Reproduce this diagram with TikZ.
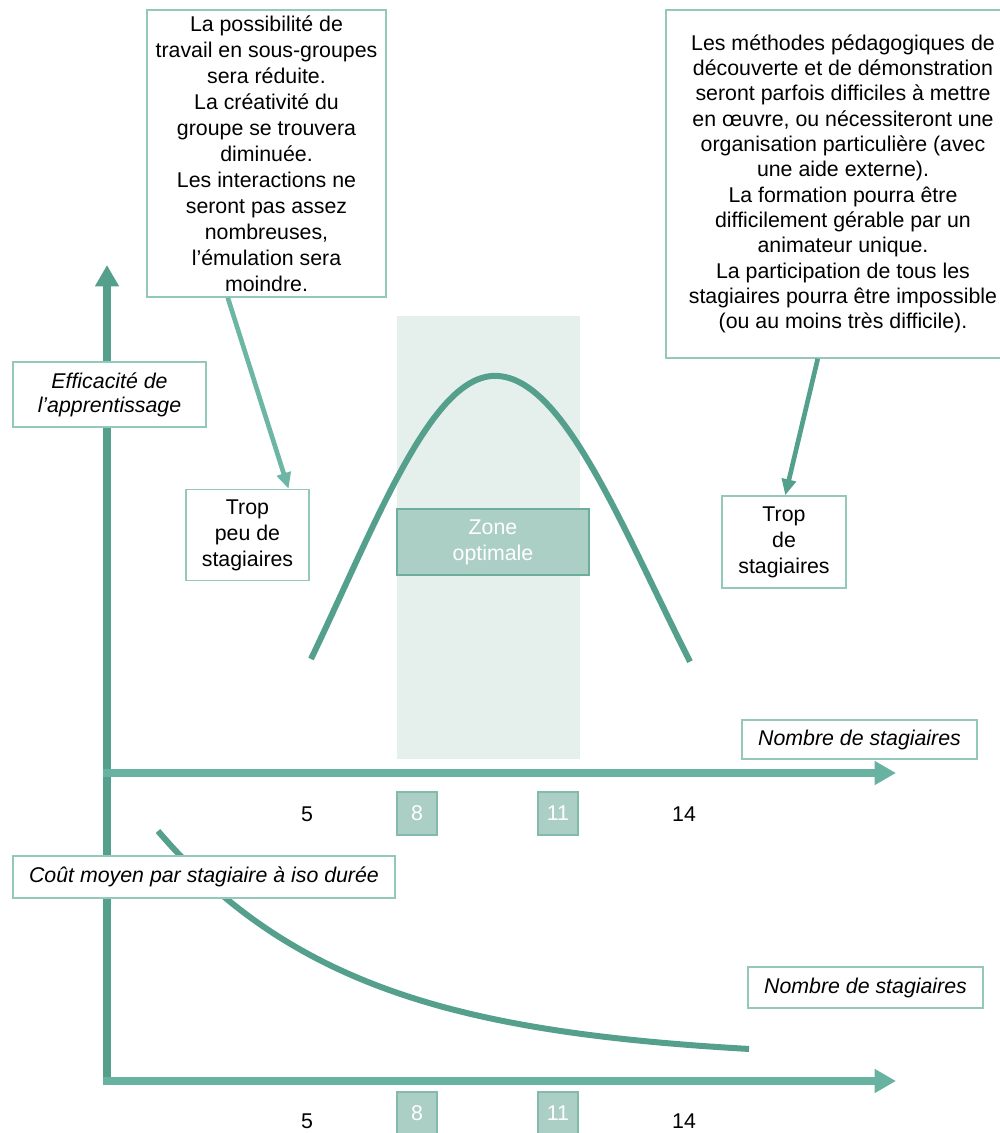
\documentclass[tikz,border=0pt]{standalone}
\usepackage{fontspec}
\setmainfont{Liberation Sans}
\usetikzlibrary{arrows.meta,calc}
\definecolor{tealdark}{HTML}{55A08D}
\definecolor{teallight}{HTML}{68B2A2}
\definecolor{tealarrow}{HTML}{6DB5A5}
\definecolor{boxline}{HTML}{93C8BB}
\definecolor{zonebg}{HTML}{E5EFEC}
\definecolor{zonefill}{HTML}{ABCFC5}
\definecolor{zoneline}{HTML}{6DAE9D}
\begin{document}
\begin{tikzpicture}[x=0.75pt,y=-0.75pt,
  txt/.style={font=\fontsize{16}{19.5}\selectfont, align=center},
  note/.style={txt, draw=boxline, line width=1.1pt, fill=white, inner sep=0pt},
  axislbl/.style={note, font=\fontsize{16}{18}\selectfont\itshape},
  tickbox/.style={draw=zoneline!85, fill=zonefill, text=white, line width=1pt,
    font=\fontsize{16}{19}\selectfont, minimum width=30pt, minimum height=32.25pt, inner sep=0pt},
  axisline/.style={line width=6pt, -{Triangle[length=16pt,width=17pt]}},
  curveline/.style={tealdark, line width=4.5pt, line join=round},
  pointer/.style={line width=3.5pt, -{Triangle[length=12pt,width=10.5pt]}}
]
\useasboundingbox (0,0) rectangle (1000,1133);

% optimal zone band
\fill[zonebg] (397,316) rectangle (580,759);

% axes
\draw[axisline, tealdark] (107,1085) -- (107,265);
\draw[axisline, teallight] (103,773) -- (896,773);
\draw[axisline, teallight] (103,1081) -- (896,1081);

% learning efficiency curve: a bell, slightly wider on its right side
\draw[curveline]
  plot[domain=311:495, samples=80] (\x,{376+545*(1-exp(((\x-495)/100)^2/(-4.6208)))})
  -- plot[domain=495:690, samples=80] (\x,{376+545*(1-exp(((\x-495)/100)^2/(-5.12)))});

% average cost per trainee: decays towards a floor
\draw[curveline]
  plot[domain=158:749, samples=120] (\x,{1060-229*exp((\x-158)/(-195))});

% text boxes
\node[note, minimum width=179.25pt, minimum height=215.25pt] (few) at (266.5,153.5) {%
  La possibilité de\\ travail en sous-groupes\\ sera réduite.\\ La créativité du\\
  groupe se trouvera\\ diminuée.\\ Les interactions ne\\ seront pas assez\\
  nombreuses,\\ l’émulation sera\\ moindre.};
\node[note, font=\fontsize{16}{19}\selectfont, minimum width=265.5pt, minimum height=261pt] (many) at (843,184) {%
  Les méthodes pédagogiques de\\ découverte et de démonstration\\
  seront parfois difficiles à mettre\\ en œuvre, ou nécessiteront une\\
  organisation particulière (avec\\ une aide externe).\\ La formation pourra être\\
  difficilement gérable par un\\ animateur unique.\\ La participation de tous les\\
  stagiaires pourra être impossible\\ (ou au moins très difficile).};

\node[note, minimum width=92.25pt, minimum height=68.25pt] (toofew) at (247.5,535)
  {Trop\\ peu de\\ stagiaires};
\node[note, minimum width=93pt, minimum height=69pt] (toomany) at (784,542)
  {Trop\\ de\\ stagiaires};

\node[draw=zoneline, fill=zonefill, line width=1pt, text=white, txt, inner sep=0pt,
  minimum width=144pt, minimum height=49.5pt] (zone) at (493,542) {Zone\\ optimale};

% axis labels
\node[axislbl, minimum width=144.75pt, minimum height=48.75pt] (eff) at (109.5,394.5)
  {Efficacité de\\ l’apprentissage};
\node[axislbl, minimum width=176.25pt, minimum height=29.25pt] (nb1) at (859.5,739.5)
  {Nombre de stagiaires};
\node[axislbl, minimum width=286.5pt, minimum height=31.5pt] (cost) at (204,877)
  {Coût moyen par stagiaire à iso durée};
\node[axislbl, minimum width=176.25pt, minimum height=30.75pt] (nb2) at (865.5,987.5)
  {Nombre de stagiaires};

% pointers
\draw[pointer, tealarrow] ($(few.south west)!0.339!(few.south east)$) -- ($(toofew.north west)!0.83!(toofew.north east)$);
\draw[pointer, tealdark] ($(many.south west)!0.429!(many.south east)$) -- ($(toomany.north west)!0.51!(toomany.north east)$);

% tick labels, upper axis
\node[txt] (a5) at (307,814) {5};
\node[tickbox] (a8) at (417,813.5) {8};
\node[tickbox] (a11) at (558,813.5) {11};
\node[txt] (a14) at (684,814) {14};

% tick labels, lower axis
\node[txt] (b5) at (307,1121) {5};
\node[tickbox] (b8) at (417,1113.5) {8};
\node[tickbox] (b11) at (558,1113.5) {11};
\node[txt] (b14) at (684,1121) {14};
\end{tikzpicture}
\end{document}
